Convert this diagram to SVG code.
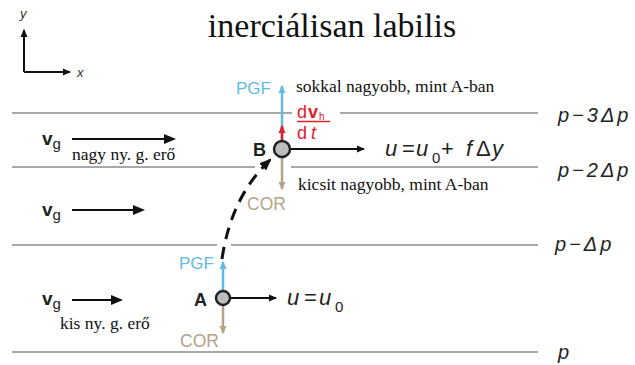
<svg xmlns="http://www.w3.org/2000/svg" width="635" height="365" viewBox="0 0 635 365">
<defs>
<marker id="ab" markerWidth="8" markerHeight="8" refX="7" refY="4" orient="auto" markerUnits="userSpaceOnUse"><path d="M0,0.5 L8,4 L0,7.5 z" fill="#111"/></marker>
<marker id="abig" markerWidth="12" markerHeight="12" refX="10" refY="6" orient="auto" markerUnits="userSpaceOnUse"><path d="M0,1 L12,6 L0,11 z" fill="#111"/></marker>
<marker id="ablue" markerWidth="8" markerHeight="8" refX="7" refY="4" orient="auto" markerUnits="userSpaceOnUse"><path d="M0,0.5 L8,4 L0,7.5 z" fill="#62b9e2"/></marker>
<marker id="atan" markerWidth="8" markerHeight="8" refX="7" refY="4" orient="auto" markerUnits="userSpaceOnUse"><path d="M0,0.5 L8,4 L0,7.5 z" fill="#b5a387"/></marker>
<marker id="ared" markerWidth="8" markerHeight="8" refX="7" refY="4" orient="auto" markerUnits="userSpaceOnUse"><path d="M0,0.5 L8,4 L0,7.5 z" fill="#e0202c"/></marker>
</defs>
<style>
.lvl{stroke:#a8a8a8;stroke-width:2;fill:none}
.blk{stroke:#111;stroke-width:2;fill:none}
.pgf{stroke:#62b9e2;stroke-width:2.5;fill:none}
.cor{stroke:#b5a387;stroke-width:2.5;fill:none}
.sans{font-family:"Liberation Sans",Arial,sans-serif}
.ser{font-family:"Liberation Serif","Times New Roman",serif;fill:#111}
.pl{font-family:"Liberation Sans",Arial,sans-serif;font-style:italic;font-size:20px;letter-spacing:3px;fill:#222}
.mth{font-family:"Liberation Sans",Arial,sans-serif;font-style:italic;font-size:22px;fill:#222}
.sub{font-style:normal;font-size:15px}
.bl{fill:#62b9e2;font-size:17px}
.tn{fill:#b5a387;font-size:17.5px}
.pt{fill:#bdbdbd;stroke:#222;stroke-width:2.5}
.vg{font-family:"Liberation Sans",Arial,sans-serif;font-size:19px;font-weight:bold;fill:#222}
</style>
<text x="332" y="37" class="ser" font-size="34" text-anchor="middle">inerciálisan labilis</text>
<g id="axes">
<path class="blk" d="M24,72 V30" stroke-width="1.3" marker-end="url(#ab)"/>
<path class="blk" d="M24,72 H70" stroke-width="1.3" marker-end="url(#ab)"/>
<text x="20" y="18" class="sans" font-size="13" font-style="italic" fill="#333">y</text>
<text x="77" y="77" class="sans" font-size="13" font-style="italic" fill="#333">x</text>
</g>
<g id="levels">
<path class="lvl" d="M12,113 H292 M340,113 H538"/>
<path class="lvl" d="M12,167 H255 M291,167 H538"/>
<path class="lvl" d="M12,245 H217 M231,245 H538"/>
<path class="lvl" d="M12,352 H538"/>
<text x="558" y="122" class="pl">p−3Δp</text>
<text x="558" y="177" class="pl">p−2Δp</text>
<text x="555" y="251" class="pl">p−Δp</text>
<text x="558" y="359" class="pl">p</text>
</g>
<g id="connectors">
<path d="M222,259 Q231,197 270,160" stroke="#111" stroke-width="3" fill="none" stroke-dasharray="12,8" marker-end="url(#abig)"/>
</g>
<g id="vg1">
<text x="42" y="145" class="vg">v<tspan font-size="15" font-weight="normal" dy="4">g</tspan></text>
<path class="blk" d="M72,139 H174" stroke-width="3" marker-end="url(#abig)"/>
<text x="72" y="160" class="ser" font-size="17.5">nagy ny. g. erő</text>
</g>
<g id="vg2">
<text x="42" y="216" class="vg">v<tspan font-size="15" font-weight="normal" dy="4">g</tspan></text>
<path class="blk" d="M72,210 H143" stroke-width="3" marker-end="url(#abig)"/>
</g>
<g id="vg3">
<text x="42" y="305" class="vg">v<tspan font-size="15" font-weight="normal" dy="4">g</tspan></text>
<path class="blk" d="M72,300 H121" stroke-width="3" marker-end="url(#abig)"/>
<text x="60" y="329" class="ser" font-size="17.5">kis ny. g. erő</text>
</g>
<g id="A">
<path class="pgf" d="M223,291 V262" marker-end="url(#ablue)"/>
<path class="cor" d="M223,305 V333" marker-end="url(#atan)"/>
<path class="blk" d="M230,298 H276" marker-end="url(#ab)"/>
<circle cx="223" cy="298" r="7" class="pt"/>
<text x="194" y="306" class="sans" font-size="18" font-weight="bold" fill="#222">A</text>
<text x="179" y="269" class="sans bl">PGF</text>
<text x="180" y="347" class="sans tn">COR</text>
<text y="305" class="mth" font-size="21"><tspan x="287">u</tspan><tspan x="304" font-style="normal">=</tspan><tspan x="319">u</tspan><tspan x="335" y="312" class="sub">0</tspan></text>
</g>
<g id="B">
<path class="pgf" d="M282,141 V86" marker-end="url(#ablue)"/>
<path d="M282,141 V126" stroke="#e0202c" stroke-width="2.5" marker-end="url(#ared)"/>
<path class="cor" d="M282,157 V189" marker-end="url(#atan)"/>
<path class="blk" d="M290,149 H364" marker-end="url(#ab)"/>
<circle cx="282" cy="149" r="8" class="pt"/>
<text x="253" y="156" class="sans" font-size="18" font-weight="bold" fill="#222">B</text>
<text x="236" y="94" class="sans bl">PGF</text>
<text x="247" y="210" class="sans tn">COR</text>
<text x="296" y="92" class="ser" font-size="17.5">sokkal nagyobb, mint A-ban</text>
<text x="298" y="190" class="ser" font-size="17.5">kicsit nagyobb, mint A-ban</text>
<text y="118" class="sans" font-size="18" fill="#e0202c"><tspan x="297">d</tspan><tspan x="308" font-weight="bold">v</tspan><tspan x="319" font-size="10" dy="2">h</tspan></text>
<path d="M297,121.5 H330" stroke="#e0202c" stroke-width="1.3"/>
<text y="139" class="sans" font-size="18" fill="#e0202c"><tspan x="297">d</tspan><tspan x="311" font-style="italic">t</tspan></text>
<text y="156" class="mth"><tspan x="385">u</tspan><tspan x="402" font-style="normal">=</tspan><tspan x="416">u</tspan><tspan x="432" y="163" class="sub">0</tspan><tspan x="441" y="156" font-style="normal">+</tspan><tspan x="466">f</tspan><tspan x="476" font-style="normal">Δ</tspan><tspan x="492">y</tspan></text>
</g>
</svg>
